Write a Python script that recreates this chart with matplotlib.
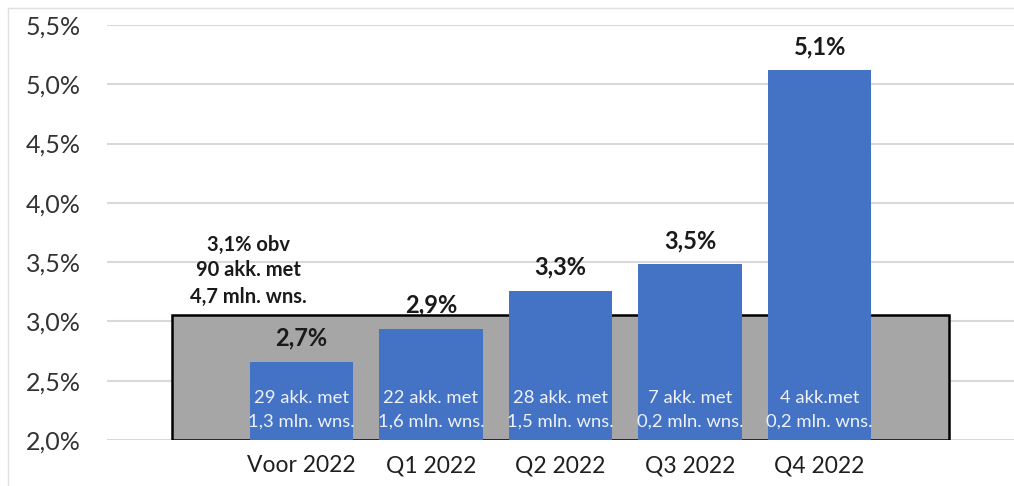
import numpy as np
import matplotlib.pyplot as plt
from matplotlib.patches import Rectangle
from matplotlib.lines import Line2D

plt.rcParams['font.family'] = ['Lato', 'DejaVu Sans']

# data
categories = ['Voor 2022', 'Q1 2022', 'Q2 2022', 'Q3 2022', 'Q4 2022']
values = [2.66, 2.94, 3.26, 3.48, 5.12]
value_labels = ['2,7%', '2,9%', '3,3%', '3,5%', '5,1%']
inner_line1 = ['29 akk. met', '22 akk. met', '28 akk. met', '7 akk. met', '4 akk.met']
inner_line2 = ['1,3 mln. wns.', '1,6 mln. wns.', '1,5 mln. wns.', '0,2 mln. wns.', '0,2 mln. wns.']
overall = 3.05
overall_label = ['3,1% obv', '90 akk. met', '4,7 mln. wns.']
yticks = [2.0, 2.5, 3.0, 3.5, 4.0, 4.5, 5.0, 5.5]
ytick_labels = ['2,0%', '2,5%', '3,0%', '3,5%', '4,0%', '4,5%', '5,0%', '5,5%']

blue = '#4472c4'
grey = '#a6a6a6'
base = 2.0

fig = plt.figure(figsize=(10.14, 4.86), dpi=100)
ax = fig.add_axes([0.1055, 0.0947, 0.8945, 0.8539])

x = np.arange(len(categories))

# grey background block for the overall average
ax.add_patch(Rectangle((-1, base), 6, overall - base, facecolor=grey,
                       edgecolor='black', linewidth=1.8, zorder=2))

ax.bar(x, np.array(values) - base, bottom=base, width=0.8, color=blue, zorder=3)

for i, v in enumerate(values):
    ax.annotate(value_labels[i], (x[i], v), xytext=(0, 17), textcoords='offset points',
                ha='center', va='center', fontsize=17, fontweight='bold',
                color='#1a1a1a', zorder=5)
    ax.text(x[i], 2.354, inner_line1[i], ha='center', va='center', fontsize=13.3,
            color='#eef2fa', zorder=5)
    ax.text(x[i], 2.152, inner_line2[i], ha='center', va='center', fontsize=13.3,
            color='#eef2fa', zorder=5)

for j, line in enumerate(overall_label):
    ax.text(-0.41, [3.644, 3.433, 3.206][j], line, ha='center', va='center',
            fontsize=14.5, fontweight='bold', color='#1a1a1a', zorder=5)

ax.set_xlim(-1.5, 5.5)
ax.set_ylim(2.0, 5.5)
ax.set_yticks(yticks)
ax.set_yticklabels(ytick_labels)
ax.set_xticks(x)
ax.set_xticklabels(categories)
ax.tick_params(axis='y', length=0, pad=19, labelsize=18, labelcolor='#333333')
ax.tick_params(axis='x', length=0, pad=11, labelsize=16.5, labelcolor='#1f1f1f')
ax.grid(axis='y', color='#d9d9d9', linewidth=1.5, zorder=0)
ax.set_axisbelow(True)
for s in ax.spines.values():
    s.set_visible(False)

# faint chart-area border on top and left
fig.add_artist(Line2D([8 / 1014, 1], [1 - 8 / 486, 1 - 8 / 486], color='#e0e0e0', linewidth=1))
fig.add_artist(Line2D([8 / 1014, 8 / 1014], [0, 1 - 8 / 486], color='#e0e0e0', linewidth=1))

fig.savefig('out.png', dpi=100)
